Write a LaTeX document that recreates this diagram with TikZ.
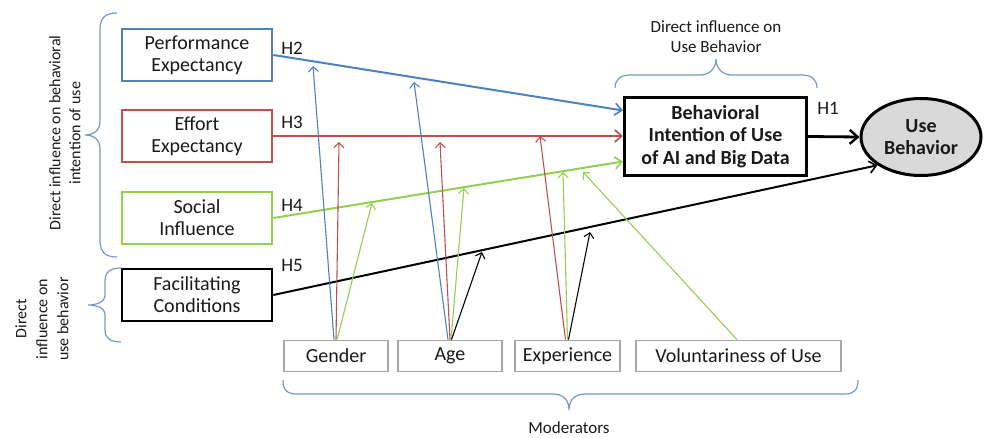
\documentclass[tikz,border=0pt]{standalone}
\usepackage{fontspec}
\setmainfont{Carlito}
\usetikzlibrary{arrows.meta,shapes.geometric,calc}
\definecolor{cblue}{HTML}{4F81BD}
\definecolor{cred}{HTML}{C0504D}
\definecolor{cgreen}{HTML}{92D050}
\definecolor{cbrace}{HTML}{7A97C2}
\definecolor{cgray}{HTML}{A6A6A6}
\definecolor{ctext}{HTML}{1A1A1A}
\definecolor{cfill}{HTML}{D9D9D9}
\begin{document}
\begin{tikzpicture}[x=1pt,y=-1pt,
  font=\fontsize{20}{22}\selectfont, text=ctext,
  cbox/.style={draw, line width=2.6pt, minimum width=150pt, minimum height=52pt, inner sep=0pt, align=center},
  mbox/.style={draw=cgray, line width=1.8pt, minimum height=31pt, inner sep=0pt},
  main/.style={line width=2pt, -{Straight Barb[length=7pt,width=12pt,line width=1.6pt]}},
  mod/.style={line width=1.1pt, -{Straight Barb[length=5pt,width=10pt,line width=1.1pt]}},
  brc/.style={draw=cbrace, line width=1.2pt},
  hl/.style={font=\fontsize{19}{22}\selectfont},
  small/.style={font=\fontsize{17}{20}\selectfont, align=center}
]
\fill[white] (0,0) rectangle (984,438);
\useasboundingbox (0,0) rectangle (984,438);

% construct boxes
\node[cbox, draw=cblue] (PE) at (197,55) {Performance\\Expectancy};
\node[cbox, draw=cred] (EE) at (197,136) {Effort\\Expectancy};
\node[cbox, draw=cgreen] (SI) at (197,218) {Social\\Influence};
\node[cbox, draw=black] (FC) at (197,295) {Facilitating\\Conditions};

\node[draw, line width=3pt, minimum width=182pt, minimum height=78pt, inner sep=0pt, align=center,
      font=\bfseries\fontsize{20}{22.5}\selectfont] (BI) at (715.5,136.5)
      {Behavioral\\Intention of Use\\of AI and Big Data};
\node[ellipse, draw, line width=3pt, fill=cfill, minimum width=120pt, minimum height=77pt, inner sep=0pt,
      align=center, font=\bfseries\fontsize{20}{22.5}\selectfont] (UB) at (921,137) {Use\\Behavior};

% moderators
\node[mbox, minimum width=104pt] (G) at (336,356) {Gender};
\node[mbox, minimum width=104pt] (A) at (450,356) {Age};
\node[mbox, minimum width=105pt] (X) at (567.5,356) {Experience};
\node[mbox, minimum width=205pt] (V) at (738.5,356) {Voluntariness of Use};

% hypothesis labels
\node[hl] (h1) at (828,108) {H1};
\node[hl] (h2) at (292,48) {H2};
\node[hl] (h3) at (292,122) {H3};
\node[hl] (h4) at (292,205) {H4};
\node[hl] (h5) at (292,265) {H5};

% main arrows
\draw[main, cblue] (PE.east) -- ([yshift=26pt]BI.west);
\draw[main, cred] (EE.east) -- (BI.west |- EE.east);
\draw[main, cgreen] (SI.east) -- ([yshift=-25pt]BI.west);
\draw[main, black] (FC.east) -- (UB.213);
\draw[line width=2.8pt, -{Straight Barb[length=8pt,width=14pt,line width=2.4pt]}] (BI.east) -- (UB.west);

% moderator arrow tips
\coordinate (gb) at (313,66);
\coordinate (gr) at (339,142);
\coordinate (gg) at (372,203);
\coordinate (ab) at (414,82);
\coordinate (ar) at (440,142);
\coordinate (ag) at (464,188);
\coordinate (ak) at (482,252);
\coordinate (xr) at (540,136);
\coordinate (xg) at (563,172);
\coordinate (xk) at (590,232);
\coordinate (vg) at (583,172);

\draw[mod, cblue]  ([xshift=-2pt]G.north) -- (gb);
\draw[mod, cred]   (G.north) -- (gr);
\draw[mod, cgreen] ([xshift=1pt]G.north) -- (gg);
\draw[mod, cblue]  ([xshift=-2pt]A.north) -- (ab);
\draw[mod, cred]   (A.north) -- (ar);
\draw[mod, cgreen] ([xshift=1pt]A.north) -- (ag);
\draw[mod, black]  ([xshift=1.5pt]A.north) -- (ak);
\draw[mod, cred]   ([xshift=-2pt]X.north) -- (xr);
\draw[mod, cgreen] (X.north) -- (xg);
\draw[mod, black]  ([xshift=1pt]X.north) -- (xk);
\draw[mod, cgreen] ([xshift=-1.5pt]V.north) -- (vg);

% braces
\draw[brc] (117,13) .. controls (105,13) and (100,18) .. (100,30) -- (100,121)
  .. controls (100,131) and (93,135) .. (85,135) .. controls (93,135) and (100,139) .. (100,149)
  -- (100,240) .. controls (100,252) and (105,257) .. (117,257);
\draw[brc] (121,268) .. controls (110,268) and (105,272) .. (105,282) -- (105,296)
  .. controls (105,302) and (96,305) .. (88,305) .. controls (96,305) and (105,308) .. (105,314)
  -- (105,330) .. controls (105,338) and (110,342) .. (121,342);
\draw[brc] (615,88) .. controls (615,80) and (620,75) .. (630,75) -- (700,75)
  .. controls (710,75) and (716,68) .. (716,59) .. controls (716,68) and (722,75) .. (732,75)
  -- (802,75) .. controls (812,75) and (817,80) .. (817,88);
\draw[brc] (283,380) .. controls (283,390) and (287,394) .. (297,394) -- (553,394)
  .. controls (563,394) and (569,400) .. (569,410) .. controls (569,400) and (575,394) .. (585,394)
  -- (845,394) .. controls (854,394) and (858,390) .. (858,380);

% brace texts
\node[rotate=90, align=center, font=\fontsize{16}{20}\selectfont] (lt1) at (65,133)
  {Direct influence on behavioral\\intention of use};
\node[rotate=90, align=center, font=\fontsize{16}{21}\selectfont] (lt2) at (42,319)
  {Direct\\influence on\\use behavior};
\node[small] (tt) at (716,37) {Direct influence on\\Use Behavior};
\node[small, inner sep=0pt] (mt) at (569,428) {Moderators};
\end{tikzpicture}
\end{document}
